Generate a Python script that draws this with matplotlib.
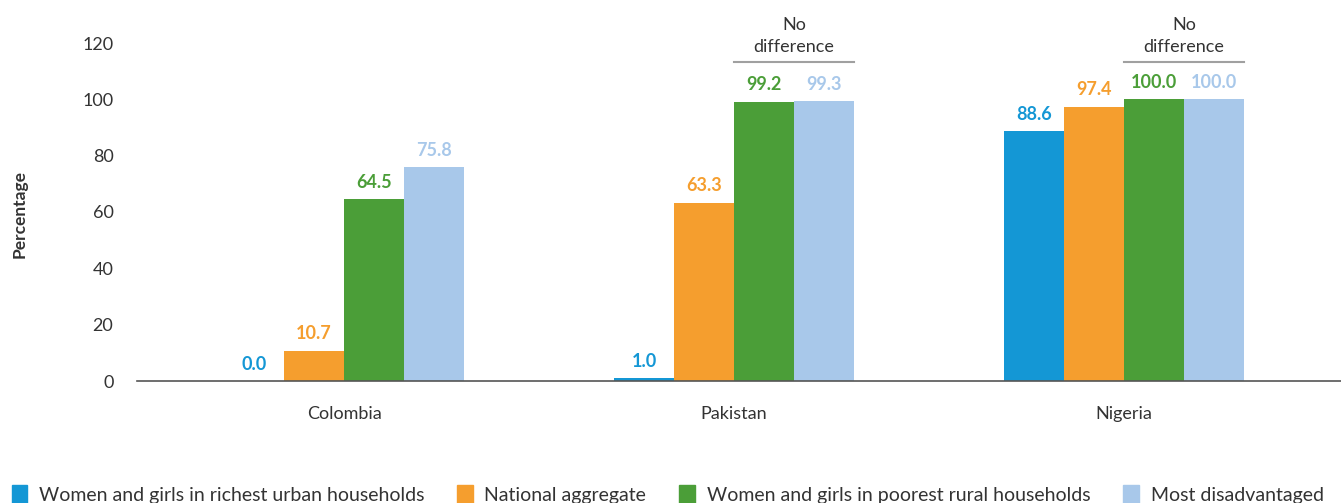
import numpy as np
import matplotlib.pyplot as plt
from matplotlib.patches import Patch

# Data
countries = ["Colombia", "Pakistan", "Nigeria"]
series = ["Women and girls in richest urban households", "National aggregate",
          "Women and girls in poorest rural households", "Most disadvantaged"]
richest_urban = [0.0, 1.0, 88.6]
national = [10.7, 63.3, 97.4]
poorest_rural = [64.5, 99.2, 100.0]
most_disadv = [75.8, 99.3, 100.0]
yticks = [0, 20, 40, 60, 80, 100, 120]
no_diff_groups = [1, 2]  # Pakistan, Nigeria

colors = ["#1497d5", "#f59e2e", "#4b9e38", "#a8c8ea"]
plt.rcParams['font.family'] = ['Lato', 'DejaVu Sans']

W, H = 1341, 503
fig = plt.figure(figsize=(W / 100, H / 100), dpi=100)
ax = fig.add_axes([137 / W, (H - 381) / H, (W - 137) / W, (381 - 43) / H])

x = np.arange(len(countries))
bw = 60 / 390
offsets = np.array([-1.5, -0.5, 0.5, 1.5]) * bw
all_vals = [richest_urban, national, poorest_rural, most_disadv]
for vals, off, c in zip(all_vals, offsets, colors):
    ax.bar(x + off, vals, width=bw, color=c, zorder=2)
    for xi, v in zip(x, vals):
        ax.text(xi + off, v + 3.0, f"{v:.1f}", ha="center", va="bottom",
                color=c, fontsize=13, fontweight="bold")

# "No difference" annotations
for g in no_diff_groups:
    x0 = g + offsets[2] - bw / 2
    x1 = g + offsets[3] + bw / 2
    ax.plot([x0, x1], [113.3, 113.3], color="#a0a0a0", lw=1.5, clip_on=False)
    ax.text((x0 + x1) / 2, 115.8, "No\ndifference", ha="center", va="bottom",
            fontsize=13, color="#333333", linespacing=1.45)

ax.set_xlim(-(344 - 137) / 390, 2 + (1341 - 1124) / 390)
ax.set_ylim(0, 120)
ax.set_yticks(yticks)
ax.set_xticks(x)
ax.set_xticklabels(countries)
ax.tick_params(axis="both", length=0, labelsize=13, labelcolor="#333333")
ax.tick_params(axis="y", pad=17)
ax.tick_params(axis="x", pad=18)
for s in ["top", "right", "left"]:
    ax.spines[s].set_visible(False)
ax.spines["bottom"].set_color("#555555")
ax.spines["bottom"].set_linewidth(1.2)

fig.text(20 / W, (H - 214) / H, "Percentage", rotation=90, ha="center", va="center",
         fontsize=12.5, fontweight="bold", color="#333333")

handles = [Patch(color=c, label=s) for c, s in zip(colors, series)]
fig.legend(handles=handles, loc="lower left", bbox_to_anchor=(-6 / W, -19 / H), ncol=4,
           frameon=False, fontsize=14, handlelength=0.8, handleheight=1.2,
           handletextpad=0.6, columnspacing=1.7, labelcolor="#333333")

fig.savefig("out.png", dpi=100)
